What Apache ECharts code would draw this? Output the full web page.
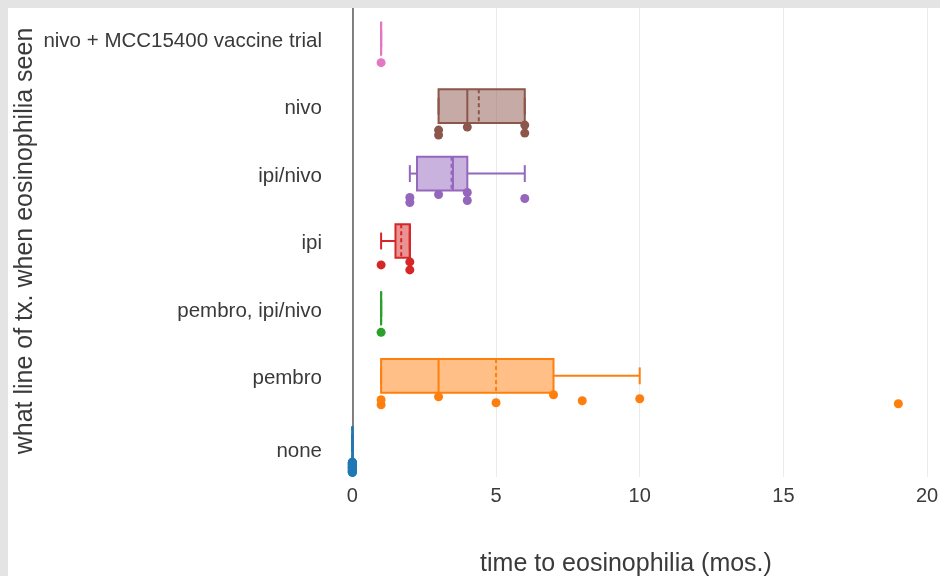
<!DOCTYPE html>
<html>
<head>
<meta charset="utf-8">
<title>time to eosinophilia</title>
<script src="https://cdn.jsdelivr.net/npm/echarts@6/dist/echarts.min.js"></script>
<style>
  html, body { margin: 0; padding: 0; background: #ffffff; }
  #chart { width: 940px; height: 576px; }
</style>
</head>
<body>
<div id="chart"></div>
<script>
// Treatment line at the time eosinophilia was seen (bottom to top)
const categories = [
  'none',
  'pembro',
  'pembro, ipi/nivo',
  'ipi',
  'ipi/nivo',
  'nivo',
  'nivo + MCC15400 vaccine trial'
];

// Trace colours, one per treatment line
const colors = ['#1f77b4', '#ff7f0e', '#2ca02c', '#d62728', '#9467bd', '#8c564b', '#e377c2'];

// Box summaries (months)
const whiskerLow  = [0, 1, 1, 1,   2,    3, 1];
const q1          = [0, 1, 1, 1.5, 2.25, 3, 1];
const median      = [0, 3, 1, 2,   3.5,  4, 1];
const q3          = [0, 7, 1, 2,   4,    6, 1];
const whiskerHigh = [0, 10, 1, 2,  6,    6, 1];
const mean        = [0, 5, 1, 1.7, 3.45, 4.4, 1];

// Individual patients (months to eosinophilia)
const obsNone       = [0, 0, 0, 0, 0, 0, 0, 0, 0, 0, 0, 0, 0, 0, 0, 0, 0, 0, 0, 0];
const obsPembro     = [1, 1, 3, 5, 7, 8, 10, 19];
const obsPembroIpi  = [1];
const obsIpi        = [1, 2, 2];
const obsIpiNivo    = [2, 2, 3, 4, 4, 6];
const obsNivo       = [3, 3, 4, 6, 6];
const obsNivoVacc   = [1];
const observations  = [obsNone, obsPembro, obsPembroIpi, obsIpi, obsIpiNivo, obsNivo, obsNivoVacc];

// Axis ticks
const xTicks = [0, 5, 10, 15, 20];

// Fixed vertical scatter pattern for the dots (pixels)
const jitter = [0, 5, -3, 3, -5, 1, -1, 4, -4, 2, -2];

function fade(hex, a) {
  const n = parseInt(hex.slice(1), 16);
  return 'rgba(' + (n >> 16) + ',' + ((n >> 8) & 255) + ',' + (n & 255) + ',' + a + ')';
}

const boxData = categories.map((c, i) => [i, whiskerLow[i], q1[i], median[i], q3[i], whiskerHigh[i], mean[i]]);
const pointData = [];
observations.forEach((vals, i) => vals.forEach((v, k) => pointData.push([v, i, k])));

const FONT = '"Liberation Sans", Arial, sans-serif';
const INK = '#3a3a3a';

const chart = echarts.init(document.getElementById('chart'), null, { renderer: 'canvas' });

chart.setOption({
  animation: false,
  backgroundColor: '#ffffff',
  grid: { left: 338, right: 0, top: 5, bottom: 99, containLabel: false, outerBoundsMode: 'none' },
  xAxis: {
    type: 'value',
    min: -0.5,
    max: 20.45,
    name: 'time to eosinophilia (mos.)',
    nameLocation: 'middle',
    nameGap: 75,
    nameMoveOverlap: false,
    nameTextStyle: { fontFamily: FONT, fontSize: 25, color: INK, padding: [0, 26, 0, 0] },
    axisLine: { show: false },
    axisTick: { show: false, customValues: xTicks },
    axisLabel: { customValues: xTicks, fontFamily: FONT, fontSize: 20, color: INK, margin: 9 },
    splitLine: { show: true, lineStyle: { color: '#ebebeb', width: 1 } }
  },
  yAxis: {
    type: 'category',
    data: categories,
    name: 'what line of tx. when eosinophilia seen',
    nameLocation: 'middle',
    nameGap: 300,
    nameMoveOverlap: false,
    nameTextStyle: { fontFamily: FONT, fontSize: 25, color: INK },
    axisLine: { show: false },
    axisTick: { show: false },
    axisLabel: {
      fontFamily: FONT, fontSize: 20.5, color: INK, margin: 16,
      padding: [5, 0, 0, 0],
      formatter: v => (v === 'none' ? '{low|' + v + '}' : v),
      rich: { low: { fontFamily: FONT, fontSize: 20.5, color: INK, padding: [11, 0, 0, 0] } }
    },
    splitLine: { show: false }
  },
  graphic: [
    { type: 'rect', z: 100, shape: { x: 0, y: 0, width: 940, height: 8 }, style: { fill: '#e4e4e4' } },
    { type: 'rect', z: 100, shape: { x: 0, y: 0, width: 8, height: 576 }, style: { fill: '#e4e4e4' } }
  ],
  series: [
    {
      type: 'custom',
      name: 'boxes',
      data: boxData,
      encode: { x: [1, 2, 3, 4, 5, 6], y: 0 },
      z: 3,
      markLine: {
        silent: true,
        symbol: 'none',
        label: { show: false },
        lineStyle: { color: '#5a5a5a', width: 1.5, type: 'solid' },
        data: [{ xAxis: 0 }],
        z: 1
      },
      renderItem: function (params, api) {
        const i = api.value(0);
        const col = colors[i];
        const band = api.size([0, 1])[1];
        const h = band * 0.5;
        const yc = api.coord([0, i])[1];
        const X = v => api.coord([v, i])[0];
        const lo = X(api.value(1)), b1 = X(api.value(2)), md = X(api.value(3));
        const b3 = X(api.value(4)), hi = X(api.value(5)), mn = X(api.value(6));
        const line = { stroke: col, lineWidth: 2 };
        const cap = h * 0.5;
        return {
          type: 'group',
          children: [
            { type: 'line', shape: { x1: lo, y1: yc, x2: b1, y2: yc }, style: line },
            { type: 'line', shape: { x1: b3, y1: yc, x2: hi, y2: yc }, style: line },
            { type: 'line', shape: { x1: lo, y1: yc - cap / 2, x2: lo, y2: yc + cap / 2 }, style: line },
            { type: 'line', shape: { x1: hi, y1: yc - cap / 2, x2: hi, y2: yc + cap / 2 }, style: line },
            { type: 'rect', shape: { x: b1, y: yc - h / 2, width: b3 - b1, height: h },
              style: { fill: fade(col, 0.5), stroke: col, lineWidth: 2 } },
            { type: 'line', shape: { x1: md, y1: yc - h / 2, x2: md, y2: yc + h / 2 }, style: line },
            { type: 'line', shape: { x1: mn, y1: yc - h / 2, x2: mn, y2: yc + h / 2 },
              style: { stroke: col, lineWidth: 2, lineDash: [4, 3] } }
          ]
        };
      }
    },
    {
      type: 'custom',
      name: 'patients',
      data: pointData,
      encode: { x: 0, y: 1 },
      z: 4,
      renderItem: function (params, api) {
        const i = api.value(1);
        const k = api.value(2);
        const band = api.size([0, 1])[1];
        const p = api.coord([api.value(0), i]);
        return {
          type: 'circle',
          shape: { cx: p[0], cy: p[1] + band * 0.355 + jitter[k % jitter.length], r: 4.5 },
          style: { fill: colors[i] }
        };
      }
    }
  ]
});
</script>
</body>
</html>
